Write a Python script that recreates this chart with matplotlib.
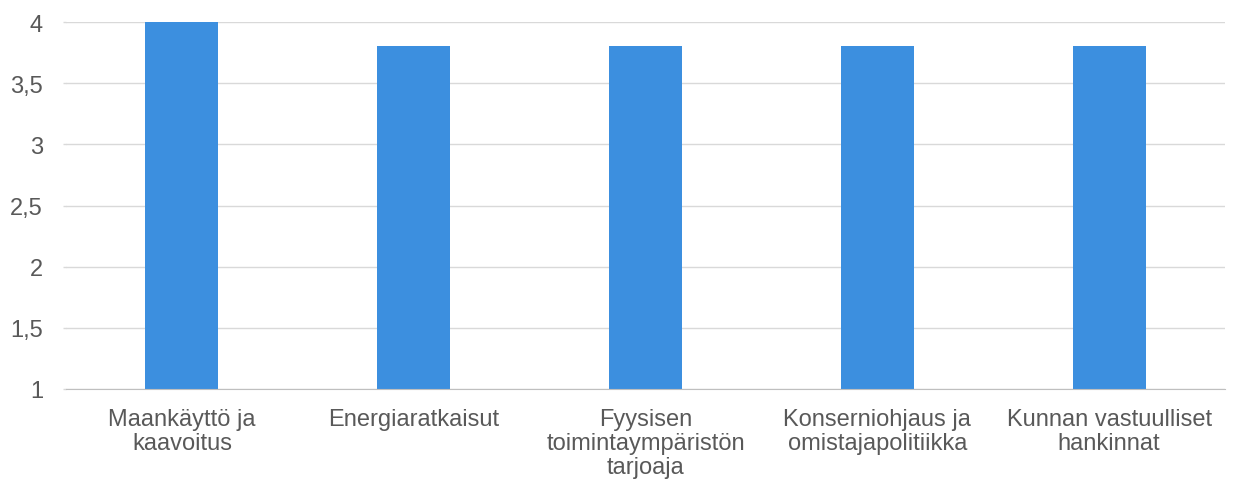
import matplotlib.pyplot as plt

categories = ["Maankäyttö ja\nkaavoitus", "Energiaratkaisut",
              "Fyysisen\ntoimintaympäristön\ntarjoaja",
              "Konserniohjaus ja\nomistajapolitiikka",
              "Kunnan vastuulliset\nhankinnat"]
values = [4.0, 3.8, 3.8, 3.8, 3.8]
yticks = [1, 1.5, 2, 2.5, 3, 3.5, 4]
yticklabels = ["1", "1,5", "2", "2,5", "3", "3,5", "4"]

plt.rcParams['font.family'] = ['Liberation Sans', 'DejaVu Sans']

fig = plt.figure(figsize=(12.33, 4.85), dpi=100)
ax = fig.add_axes([66/1233, 1 - 390/485, (1225-66)/1233, (390-23)/485])

x = range(len(categories))
ax.bar(x, values, width=0.315, color="#3C8FDF", zorder=3)

ax.set_xlim(-0.5, len(categories) - 0.5)
ax.set_ylim(1, 4)
ax.set_yticks(yticks)
ax.set_yticklabels(yticklabels, fontsize=17, color="#595959")
ax.set_xticks(list(x))
ax.set_xticklabels(categories, fontsize=17, color="#595959", linespacing=1.1)
ax.tick_params(axis='x', length=0, pad=14)
ax.tick_params(axis='y', length=2.5, color="#D9D9D9", width=1, pad=14)

ax.grid(axis='y', color="#D9D9D9", linewidth=1, zorder=0)
for s in ["top", "right", "left"]:
    ax.spines[s].set_visible(False)
ax.spines["bottom"].set_color("#BFBFBF")
ax.spines["bottom"].set_zorder(4)

fig.savefig("out.png", dpi=100)
